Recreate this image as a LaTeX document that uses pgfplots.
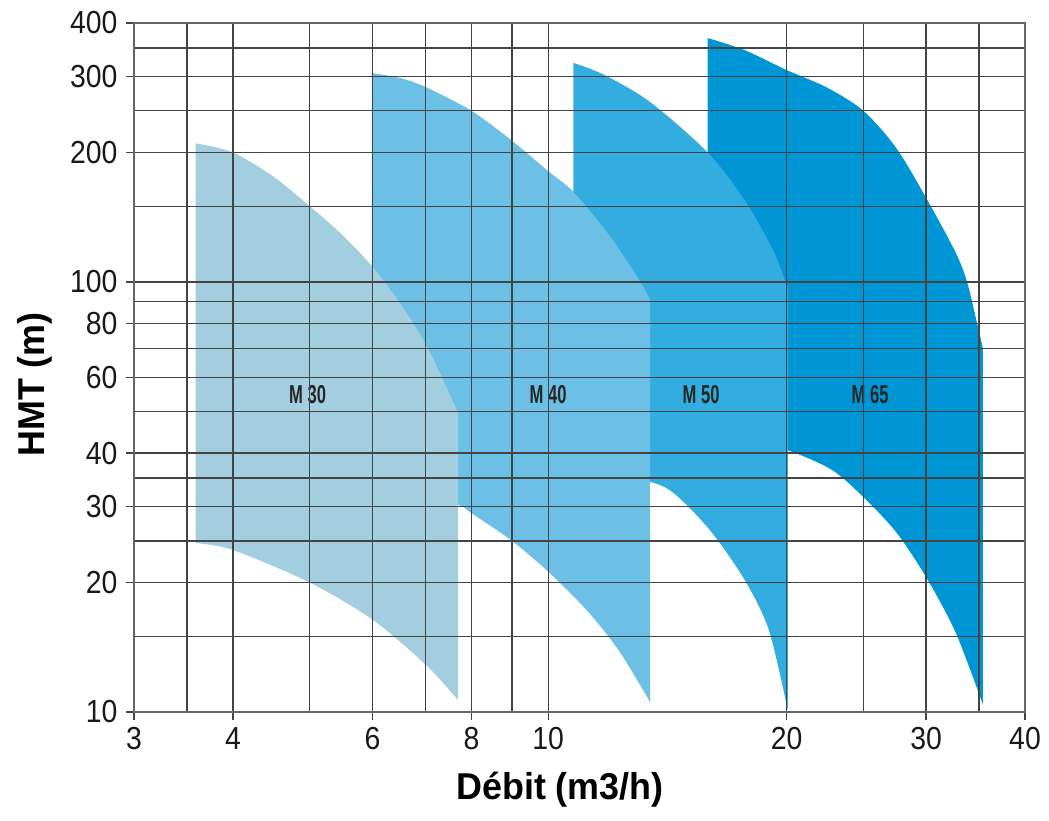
\documentclass[border=0pt]{standalone}
\usepackage{fontspec}
\setmainfont{Liberation Sans}
\newfontfamily\tickfont[FakeStretch=0.89]{Liberation Sans}
\newfontfamily\labfont[FakeStretch=0.96]{Liberation Sans}
\newfontfamily\mfont[FakeStretch=0.64]{Liberation Sans}
\usepackage{pgfplots}
\pgfplotsset{compat=1.18}
\usepgfplotslibrary{fillbetween}
\definecolor{cA}{HTML}{A2CEE0}
\definecolor{cB}{HTML}{6CBFE5}
\definecolor{cC}{HTML}{33ADE0}
\definecolor{cD}{HTML}{0096D6}
\definecolor{gridc}{HTML}{444444}
\begin{document}
\begin{tikzpicture}
\begin{axis}[
  at={(0,0)}, anchor=south west,
  scale only axis, width=891bp, height=689bp,
  xmode=log, ymode=log,
  xmin=3, xmax=40, ymin=10, ymax=400,
  xtick={3,4,6,8,10,20,30,40},
  xticklabels={3,4,6,8,10,20,30,40},
  minor xtick={3.5,5,7,9,25,35},
  ytick={10,20,30,40,60,80,100,200,300,400},
  yticklabels={10,20,30,40,60,80,100,200,300,400},
  minor ytick={15,25,35,50,70,90,150,250,350},
  grid=both,
  major grid style={gridc, line width=1.3bp},
  minor grid style={gridc, line width=1.3bp},
  tick align=outside,
  xtick pos=bottom, ytick pos=left,
  major tick length=8bp, minor tick length=0pt,
  tick style={gridc, line width=1.3bp},
  axis line style={black!60, line width=1.3bp},
  axis on top,
  ticklabel style={font=\tickfont\fontsize{32}{32}\selectfont, text=black!90},
  xticklabel style={yshift=-4bp},
  yticklabel style={xshift=-5bp},
  xlabel={Débit (m3/h)},
  ylabel={HMT (m)},
  xlabel style={font=\labfont\bfseries\fontsize{37.5}{37.5}\selectfont, at={(rel axis cs:0.478,-0.1277)}, anchor=base},
  ylabel style={font=\labfont\bfseries\fontsize{37.5}{37.5}\selectfont, at={(rel axis cs:-0.0999,0.475)}, anchor=base, rotate=0},
]
% M 65
\addplot[name path=Dtop, draw=none, smooth] coordinates {
 (15.9,369) (17.7,346) (20,311) (22.5,283) (25,250) (27.5,205) (30,157)
 (32.7,117) (33.8,100) (34.7,82) (35.4,70)};
\addplot[name path=Dbot, draw=none, smooth] coordinates {
 (15.9,44) (18,42.5) (20.07,40.6) (22.8,36.6) (25,31.6) (27.5,26.2) (30,20.6) (32.7,15.3) (35.4,10.4)};
\addplot[cD] fill between[of=Dtop and Dbot];
% M 50
\addplot[name path=Ctop, draw=none, smooth] coordinates {
 (10.76,323) (11.77,303) (13.45,262) (15.9,200) (17.7,155) (19.3,117) (20.07,96)};
\addplot[name path=Cbot, draw=none, smooth] coordinates {
 (10.76,36.5) (12,35.6) (13.45,34.3) (14.4,32.3) (16,26.5) (17.7,20.3) (19,15.5) (20.07,10.1)};
\addplot[cC] fill between[of=Ctop and Cbot];
% M 40
\addplot[name path=Btop, draw=none, smooth] coordinates {
 (5.99,306) (6.5,298) (7,284) (8,250) (9,213) (10,181)
 (10.76,162) (11.94,128.5) (13.03,101) (13.45,91)};
\addplot[name path=Bbot, draw=none, smooth] coordinates {
 (5.99,32.5) (6.8,31.6) (7.7,30.3) (8,29) (9,25) (10,21.2) (11.2,17.2) (12.28,13.9) (13.45,10.55)};
\addplot[cB] fill between[of=Btop and Bbot];
% M 30
\addplot[name path=Atop, draw=none, smooth] coordinates {
 (3.59,210) (4,200) (4.5,175.7) (5,150) (5.5,128.5) (6,108.5) (6.5,89.3) (7,71.9) (7.44,57) (7.7,49.5)};
\addplot[name path=Abot, draw=none, smooth] coordinates {
 (3.59,24.7) (4,23.8) (5,20) (6,16.4) (7,12.9) (7.7,10.66)};
\addplot[cA] fill between[of=Atop and Abot];
\node[font=\mfont\bfseries\fontsize{26}{26}\selectfont, text=black!85] at (axis cs:4.97,54.8) {M 30};
\node[font=\mfont\bfseries\fontsize{26}{26}\selectfont, text=black!85] at (axis cs:10,54.8) {M 40};
\node[font=\mfont\bfseries\fontsize{26}{26}\selectfont, text=black!85] at (axis cs:15.6,54.8) {M 50};
\node[font=\mfont\bfseries\fontsize{26}{26}\selectfont, text=black!85] at (axis cs:25.5,54.8) {M 65};
\end{axis}
\pgfresetboundingbox
\path[use as bounding box] (-134bp,-109bp) rectangle (915bp,712bp);
\end{tikzpicture}
\end{document}
